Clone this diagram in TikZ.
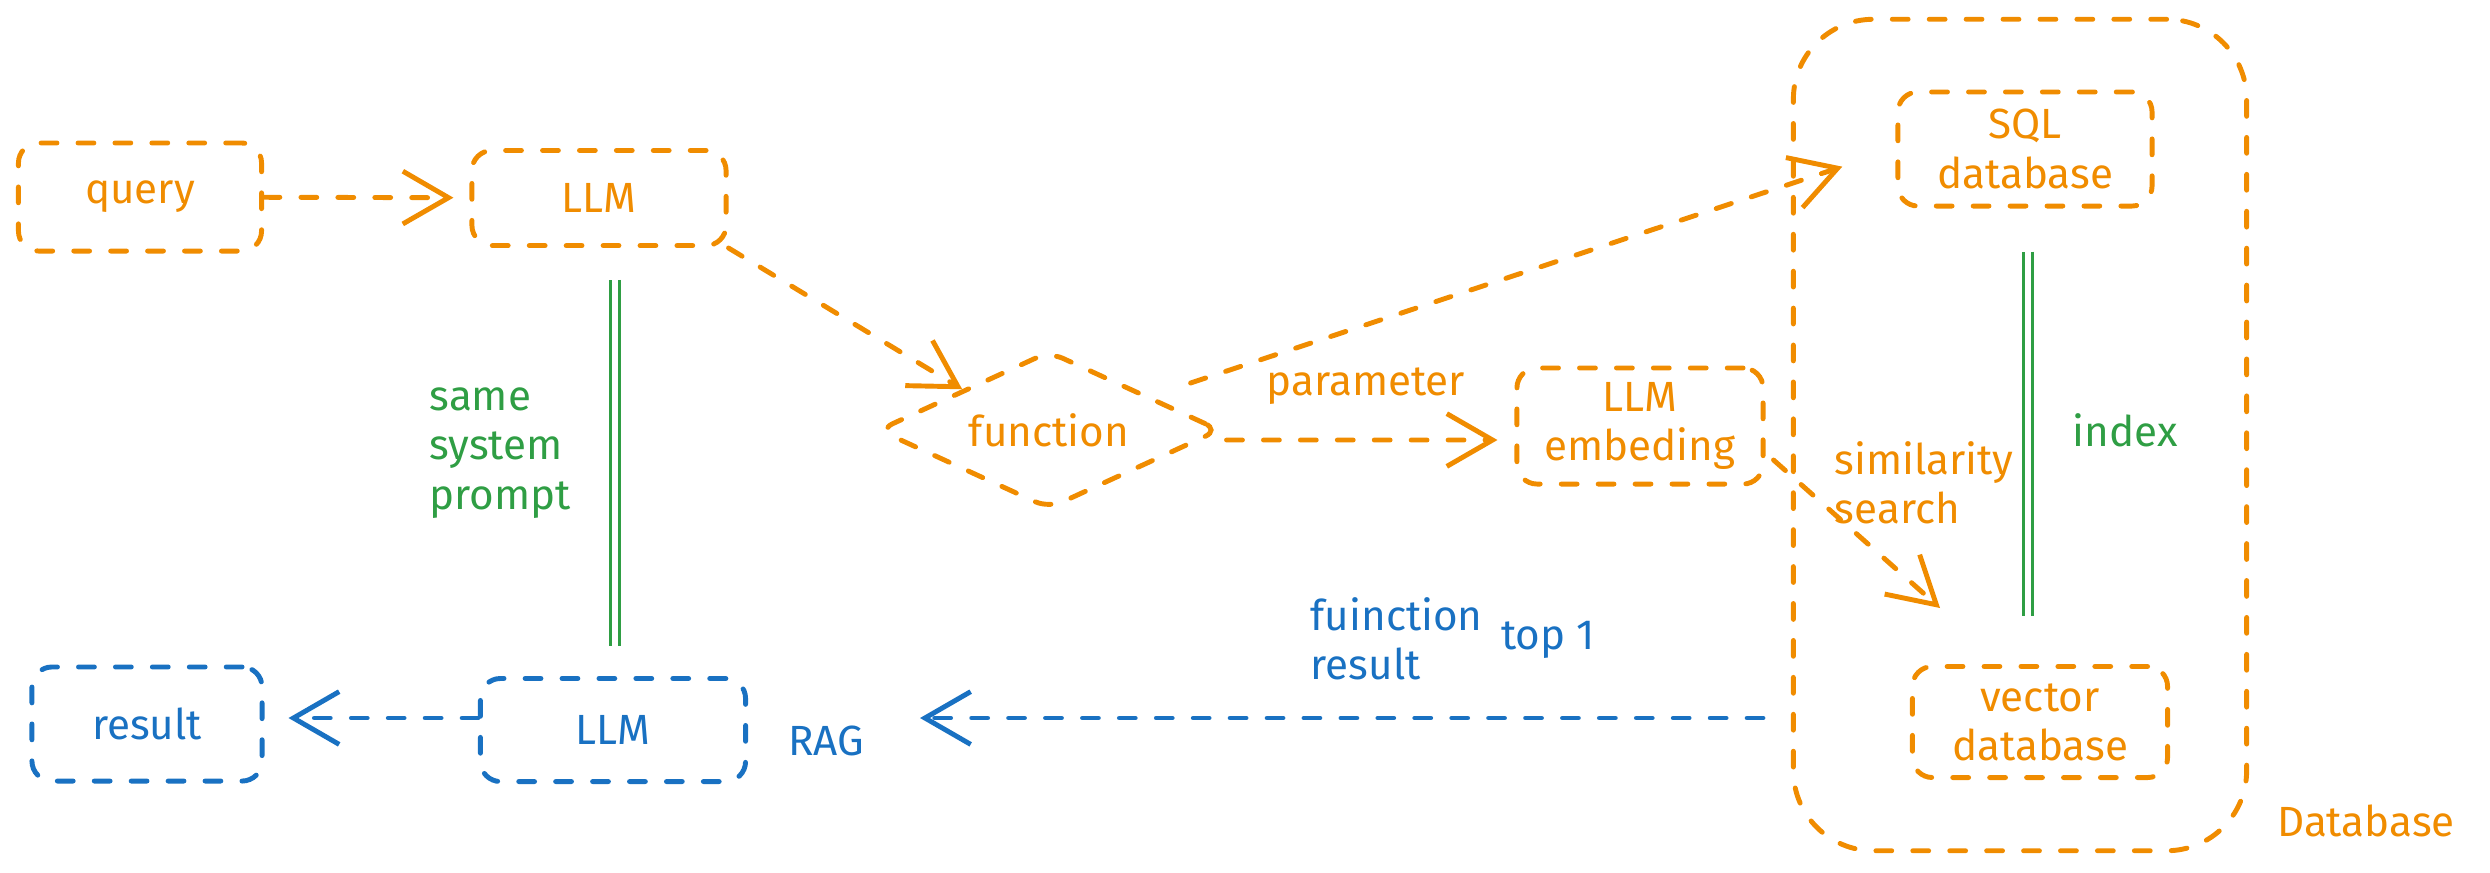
\documentclass[tikz,border=0pt]{standalone}
\usepackage{fontspec}
\setmainfont{Fira Sans}
\usetikzlibrary{arrows.meta,shapes.geometric,calc}
\definecolor{exo}{HTML}{F08C00}
\definecolor{exb}{HTML}{1971C2}
\definecolor{exg}{HTML}{2F9E44}
\begin{document}
\begin{tikzpicture}[x=0.01cm,y=-0.01cm,
  font=\fontsize{12}{14}\selectfont,
  dashline/.style={line width=1.4pt, dash pattern=on 4.5pt off 6pt, line cap=round},
  box/.style={draw, dashline, rounded corners=0.2cm, align=center, inner sep=0pt},
  obox/.style={box, draw=exo, text=exo},
  bbox/.style={box, draw=exb, text=exb},
  conn/.style={dashline, -{Straight Barb[length=13pt,width=15pt]}},
  oconn/.style={conn, draw=exo},
  bconn/.style={conn, draw=exb},
  gdouble/.style={draw=exg, double=white, double distance=1.6pt, line width=0.85pt},
  lbl/.style={align=left, inner sep=0pt}]
\path[use as bounding box] (0,0) rectangle (2490,872);

% nodes
\node[obox, minimum width=2.43cm, minimum height=1.08cm] (query) at (140,197) {query};
\node[obox, minimum width=2.54cm, minimum height=0.95cm] (llm1) at (599,198) {LLM};
\node[draw=exo, text=exo, dashline, diamond, aspect=2.17, inner sep=0pt, rounded corners=0.15cm,
      minimum width=3.42cm, minimum height=1.58cm] (func) at (1049,430) {function};
\node[obox, minimum width=2.46cm, minimum height=1.16cm] (emb) at (1640,426) {LLM\\embeding};
\node[obox, minimum width=2.54cm, minimum height=1.14cm] (sql) at (2025,149) {SQL\\database};
\node[obox, minimum width=2.55cm, minimum height=1.11cm] (vec) at (2040,722) {vector\\database};
\node[obox, rounded corners=0.8cm, minimum width=4.53cm, minimum height=8.31cm] (dbgroup) at (2020,435) {};
\node[bbox, minimum width=2.30cm, minimum height=1.14cm] (result) at (147,724) {result};
\node[bbox, minimum width=2.65cm, minimum height=1.03cm] (llm2) at (613,730) {LLM};

% labels
\node[lbl, text=exg, anchor=west] (samelbl) at (429,453) {same\\system\\prompt};
\node[lbl, text=exg] (idx) at (2125,430) {index};
\node[lbl, text=exo] (param) at (1366,386) {parameter};
\node[lbl, text=exo, anchor=west] (simlbl) at (1834,483) {similarity\\search};
\node[lbl, text=exb, anchor=west] (frlbl) at (1310,639) {fuinction\\result};
\node[lbl, text=exb] (top) at (1548,640) {top 1};
\node[lbl, text=exb] (rag) at (826,741) {RAG};
\node[lbl, text=exo] (dblbl) at (2366,821) {Database};

% connectors
\draw[oconn, shorten >=0.16cm] (query) -- (llm1);
\draw[oconn] (llm1.south east) -- (func.north west);
\draw[oconn, shorten <=0.42cm, shorten >=0.56cm] (func) -- (sql.west);
\draw[oconn, shorten <=0.04cm, shorten >=0.17cm] ([yshift=-0.1cm]func.east) -- ([yshift=-0.14cm]emb.west);
\draw[oconn] ($(emb.east)+(8,34)$) -- ($(vec.north)+(-100,-56)$);
\draw[bconn] ($(vec.west)+(-147,-4)$) -- ($(llm2.east)+(172,-12)$);
\draw[bconn] ($(llm2.west)+(0,-12)$) -- ($(result.east)+(24,-6)$);
\draw[gdouble] ($(llm1.south)+(16,32)$) -- ($(llm2.north)+(2,-30)$);
\draw[gdouble] ($(sql.south)+(3,43)$) -- ($(vec.north)+(-12,-48)$);
\end{tikzpicture}
\end{document}
